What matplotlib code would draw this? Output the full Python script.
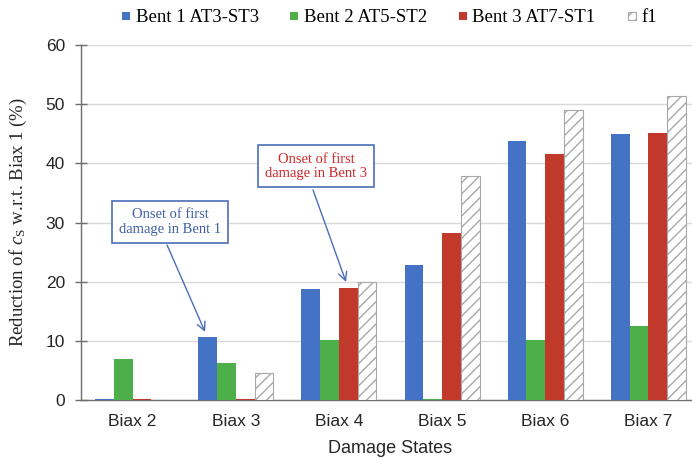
import numpy as np
import matplotlib
matplotlib.use("Agg")
import matplotlib.pyplot as plt

categories = ["Biax 2", "Biax 3", "Biax 4", "Biax 5", "Biax 6", "Biax 7"]
series_names = ["Bent 1 AT3-ST3", "Bent 2 AT5-ST2", "Bent 3 AT7-ST1", "f1"]
bent1 = [0.1, 10.7, 18.8, 22.8, 43.8, 44.9]
bent2 = [6.9, 6.2, 10.1, 0.1, 10.1, 12.5]
bent3 = [0.1, 0.1, 19.0, 28.3, 41.5, 45.2]
f1 = [0.0, 4.5, 19.9, 37.9, 49.0, 51.3]
yticks = [0, 10, 20, 30, 40, 50, 60]

plt.rcParams['mathtext.fontset'] = 'custom'
plt.rcParams['mathtext.rm'] = 'Liberation Serif'
plt.rcParams['mathtext.it'] = 'Liberation Serif:italic'
plt.rcParams['hatch.linewidth'] = 1.0

fig = plt.figure(figsize=(6.92, 4.58), dpi=100)
ax = fig.add_axes([81/692, 1-400/458, 619/692, 355/458])

x = np.arange(len(categories))
w = 0.182
colors = ['#4472C4', '#4DAF4A', '#C0392B']
containers = []
for i, (vals, c) in enumerate(zip([bent1, bent2, bent3], colors)):
    containers.append(ax.bar(x + (i - 1.5) * w, vals, w, color=c,
                             label=series_names[i], zorder=3))
containers.append(ax.bar(x + 1.5 * w, f1, w, facecolor='white', edgecolor='#A8A8A8',
                         hatch='///', linewidth=0.8, label=series_names[3], zorder=3))

ax.set_xlim(-0.5, 5.5)
ax.set_ylim(0, 60)
ax.set_yticks(yticks)
ax.set_xticks(x)
ax.set_xticklabels(categories)
ax.yaxis.grid(True, color='#D9D9D9', linewidth=1.0, zorder=0)
ax.set_axisbelow(True)
for s in ['top', 'right']:
    ax.spines[s].set_visible(False)
for s in ['left', 'bottom']:
    ax.spines[s].set_color('#6E6E6E')
    ax.spines[s].set_linewidth(1.0)
ax.tick_params(axis='y', direction='inout', length=9, width=1.0, color='#6E6E6E',
               pad=7, labelsize=12.5, labelcolor='#262626')
ax.tick_params(axis='x', length=0, pad=10, labelsize=12.5, labelcolor='#262626')
for lab in ax.get_xticklabels() + ax.get_yticklabels():
    lab.set_fontfamily('Liberation Sans')

ax.set_xlabel("Damage States", fontsize=13, fontfamily='Liberation Sans',
              color='#262626', labelpad=8)
ax.set_ylabel(r"Reduction of $c_{\mathrm{S}}$ w.r.t. Biax 1 (%)", fontsize=13.5,
              fontfamily='Liberation Serif', color='#262626', labelpad=12)

# legend entries placed individually (uneven spacing as in the reference)
leg_x = [122, 290, 459, 628]
for cont, name, lx in zip(containers, series_names, leg_x):
    fig.legend([cont], [name], loc='center left',
               bbox_to_anchor=(lx/692, 1-18/458), frameon=False,
               prop={'family': 'Liberation Serif', 'size': 13.5},
               handlelength=0.42, handleheight=0.32, handletextpad=0.3,
               borderpad=0, borderaxespad=0)

box_edge = '#4A6EB8'
ax.text(0.363, 30.1, "Onset of first\ndamage in Bent 1", ha='center', va='center',
        fontsize=10.5, fontfamily='Liberation Serif', color='#3F5FA8', linespacing=1.15,
        bbox=dict(boxstyle='square,pad=0.5', facecolor='white', edgecolor=box_edge,
                  linewidth=1.2), zorder=5)
ax.annotate('', xy=(0.703, 11.5), xytext=(0.334, 26.2),
            arrowprops=dict(arrowstyle='->,head_length=0.6,head_width=0.3',
                            color=box_edge, linewidth=1.0, shrinkA=0, shrinkB=0),
            zorder=5)
ax.text(1.778, 39.5, "Onset of first\ndamage in Bent 3", ha='center', va='center',
        fontsize=10.5, fontfamily='Liberation Serif', color='#D0282A', linespacing=1.15,
        bbox=dict(boxstyle='square,pad=0.5', facecolor='white', edgecolor=box_edge,
                  linewidth=1.2), zorder=5)
ax.annotate('', xy=(2.069, 19.95), xytext=(1.749, 35.5),
            arrowprops=dict(arrowstyle='->,head_length=0.6,head_width=0.3',
                            color=box_edge, linewidth=1.0, shrinkA=0, shrinkB=0),
            zorder=5)

fig.savefig("out.png", dpi=100)
